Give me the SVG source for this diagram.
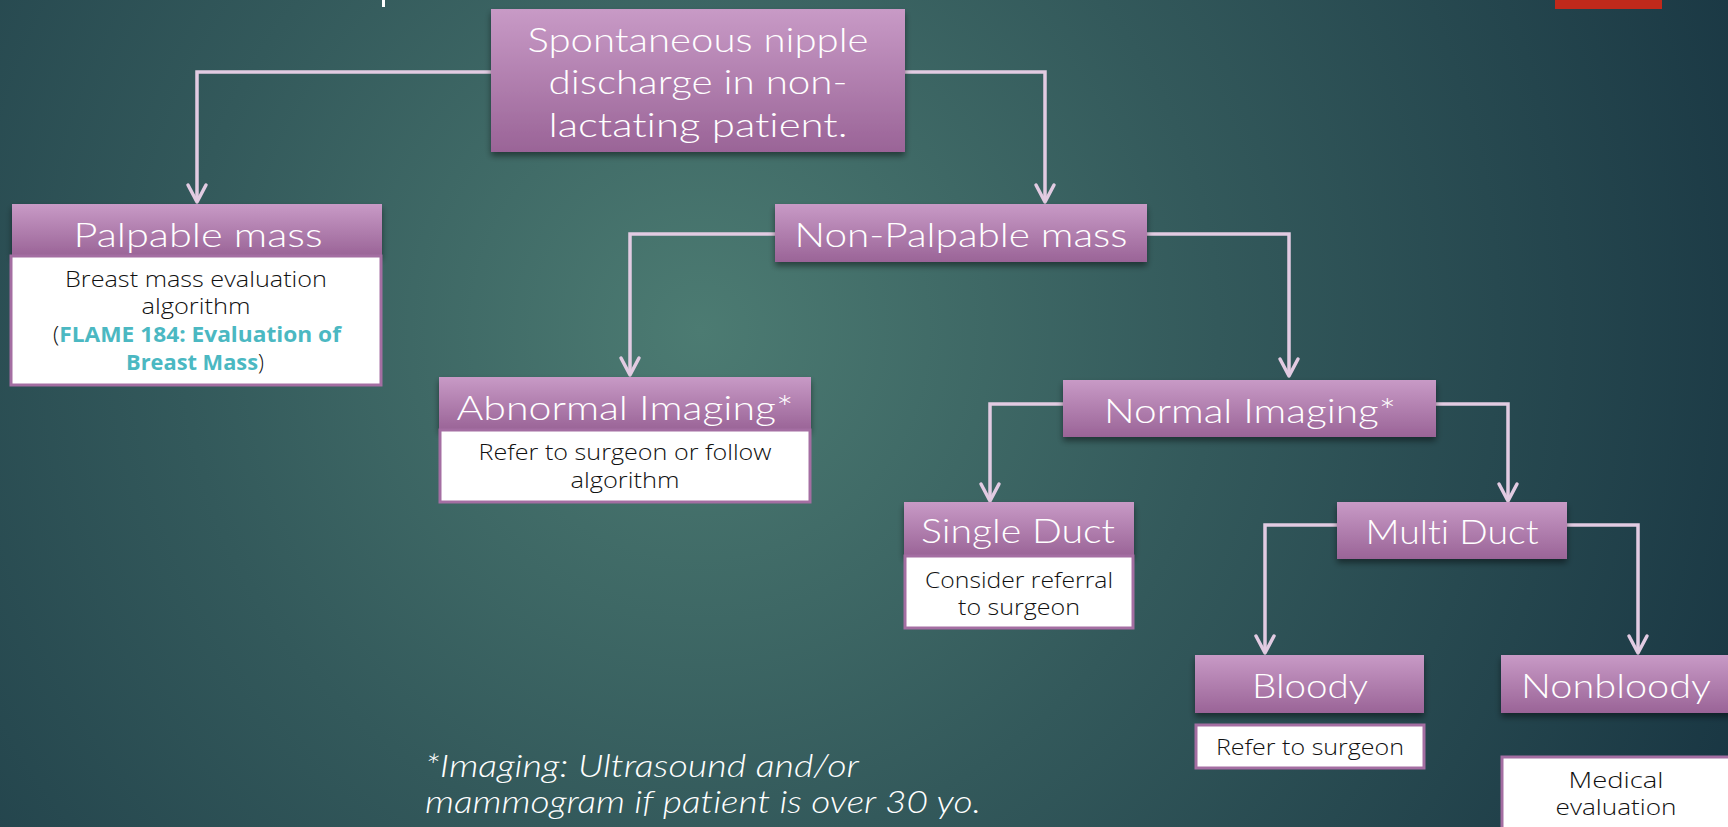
<svg xmlns="http://www.w3.org/2000/svg" width="1728" height="827" viewBox="0 0 1728 827">
<defs>
<radialGradient id="bg" cx="700" cy="330" r="1150" gradientUnits="userSpaceOnUse">
<stop offset="0" stop-color="#4c7b72"/>
<stop offset="0.45" stop-color="#33595b"/>
<stop offset="1" stop-color="#183542"/>
</radialGradient>
<linearGradient id="pg" x1="0" y1="0" x2="0" y2="1">
<stop offset="0" stop-color="#c89ac6"/>
<stop offset="1" stop-color="#9a6497"/>
</linearGradient>
<filter id="sh" x="-10%" y="-10%" width="120%" height="140%">
<feDropShadow dx="0" dy="4" stdDeviation="3" flood-color="#000" flood-opacity="0.45"/>
</filter>
<marker id="arr" viewBox="0 0 24 24" refX="20" refY="12" markerWidth="24" markerHeight="24" markerUnits="userSpaceOnUse" orient="auto">
<path d="M3 3 L20 12 L3 21" fill="none" stroke="#e2cbe2" stroke-width="3.5" stroke-linecap="round" stroke-linejoin="round"/>
</marker>
</defs>
<style>
text{font-variant-ligatures:none;}
.hd{fill:url(#pg);filter:url(#sh);}
.bd{fill:#fff;stroke:#a46ea2;stroke-width:3;}
.ht{font-family:Lato,"Open Sans","Liberation Sans",sans-serif;font-weight:300;fill:#fff;text-anchor:middle;font-size:34px;}
.bt{font-family:"Open Sans","Liberation Sans",sans-serif;font-weight:300;fill:#111;text-anchor:middle;font-size:22px;}
.lk{fill:#4bb8c2;font-weight:bold;}
.cn{fill:none;stroke:#e2cbe2;stroke-width:3.5;marker-end:url(#arr);}
.fn{font-family:Lato,"Open Sans","Liberation Sans",sans-serif;font-style:italic;font-weight:300;fill:#fff;font-size:31px;}
</style>
<rect width="1728" height="827" fill="url(#bg)"/>
<rect x="1555" y="0" width="107" height="9" fill="#c0291b"/>
<rect x="382" y="0" width="3" height="7" fill="#fff"/>

<g id="connectors">
<path class="cn" d="M494 72 H197 V202"/>
<path class="cn" d="M905 72 H1045 V202"/>
<path class="cn" d="M775 234 H630 V375"/>
<path class="cn" d="M1147 234 H1289 V376"/>
<path class="cn" d="M1063 404 H990 V501"/>
<path class="cn" d="M1436 404 H1508 V501"/>
<path class="cn" d="M1337 525 H1265 V653"/>
<path class="cn" d="M1567 525 H1638 V653"/>
</g>

<g id="start">
<rect class="hd" x="491" y="9" width="414" height="143"/>
<text class="ht" x="698" y="52" textLength="341" lengthAdjust="spacingAndGlyphs">Spontaneous nipple</text>
<text class="ht" x="698" y="94" textLength="299" lengthAdjust="spacingAndGlyphs">discharge in non-</text>
<text class="ht" x="698" y="137" textLength="299" lengthAdjust="spacingAndGlyphs">lactating patient.</text>
</g>

<g id="palpable">
<rect class="hd" x="12" y="204" width="370" height="52"/>
<text class="ht" x="198" y="247" textLength="249" lengthAdjust="spacingAndGlyphs">Palpable mass</text>
<rect class="bd" x="11" y="256" width="370" height="129"/>
<text class="bt" x="196" y="287" textLength="262" lengthAdjust="spacingAndGlyphs">Breast mass evaluation</text>
<text class="bt" x="196" y="314" textLength="109" lengthAdjust="spacingAndGlyphs">algorithm</text>
<text class="bt" x="197" y="342" textLength="288" lengthAdjust="spacingAndGlyphs">(<tspan class="lk">FLAME 184: Evaluation of</tspan></text>
<text class="bt" x="195" y="370" textLength="138" lengthAdjust="spacingAndGlyphs"><tspan class="lk">Breast Mass</tspan>)</text>
</g>

<g id="nonpalpable">
<rect class="hd" x="775" y="204" width="372" height="58"/>
<text class="ht" x="961" y="247" textLength="333" lengthAdjust="spacingAndGlyphs">Non-Palpable mass</text>
</g>

<g id="abnormal">
<rect class="hd" x="439" y="377" width="372" height="53"/>
<text class="ht" x="625" y="420" textLength="337" lengthAdjust="spacingAndGlyphs">Abnormal Imaging*</text>
<rect class="bd" x="440" y="430" width="370" height="72"/>
<text class="bt" x="625" y="460" textLength="293" lengthAdjust="spacingAndGlyphs">Refer to surgeon or follow</text>
<text class="bt" x="625" y="488" textLength="109" lengthAdjust="spacingAndGlyphs">algorithm</text>
</g>

<g id="normal">
<rect class="hd" x="1063" y="380" width="373" height="57"/>
<text class="ht" x="1250" y="423" textLength="292" lengthAdjust="spacingAndGlyphs">Normal Imaging*</text>
</g>

<g id="single">
<rect class="hd" x="904" y="502" width="230" height="54"/>
<text class="ht" x="1018" y="543" textLength="194" lengthAdjust="spacingAndGlyphs">Single Duct</text>
<rect class="bd" x="905" y="556" width="228" height="72"/>
<text class="bt" x="1019" y="588" textLength="188" lengthAdjust="spacingAndGlyphs">Consider referral</text>
<text class="bt" x="1019" y="615" textLength="122" lengthAdjust="spacingAndGlyphs">to surgeon</text>
</g>

<g id="multi">
<rect class="hd" x="1337" y="502" width="230" height="57"/>
<text class="ht" x="1452" y="544" textLength="173" lengthAdjust="spacingAndGlyphs">Multi Duct</text>
</g>

<g id="bloody">
<rect class="hd" x="1195" y="655" width="229" height="58"/>
<text class="ht" x="1310" y="698" textLength="116" lengthAdjust="spacingAndGlyphs">Bloody</text>
<rect class="bd" x="1196" y="725" width="228" height="43"/>
<text class="bt" x="1310" y="755" textLength="188" lengthAdjust="spacingAndGlyphs">Refer to surgeon</text>
</g>

<g id="nonbloody">
<rect class="hd" x="1501" y="655" width="240" height="58"/>
<text class="ht" x="1616" y="698" textLength="190" lengthAdjust="spacingAndGlyphs">Nonbloody</text>
<rect class="bd" x="1502" y="757" width="240" height="90"/>
<text class="bt" x="1616" y="788" textLength="95" lengthAdjust="spacingAndGlyphs">Medical</text>
<text class="bt" x="1616" y="815" textLength="121" lengthAdjust="spacingAndGlyphs">evaluation</text>
</g>

<g id="footnote">
<text class="fn" x="425" y="777" textLength="434" lengthAdjust="spacingAndGlyphs">*Imaging: Ultrasound and/or</text>
<text class="fn" x="425" y="813" textLength="556" lengthAdjust="spacingAndGlyphs">mammogram if patient is over 30 yo.</text>
</g>
</svg>
